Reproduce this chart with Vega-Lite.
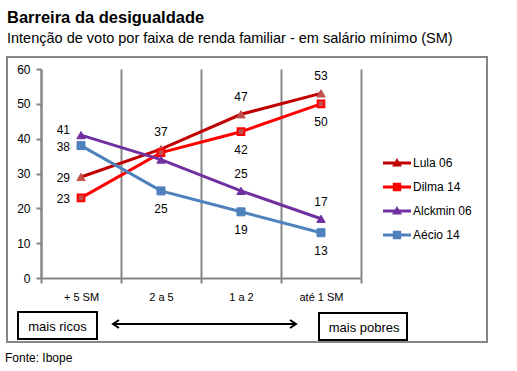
{
  "$schema": "https://vega.github.io/schema/vega-lite/v6.json",
  "width": 320,
  "height": 209,
  "autosize": "none",
  "padding": {"left": 41, "top": 69, "right": 156, "bottom": 93},
  "background": "white",
  "config": {"view": {"stroke": null}, "font": "Liberation Sans"},
  "title": {
    "text": "Barreira da desigualdade",
    "subtitle": "Intenção de voto por faixa de renda familiar - em salário mínimo (SM)",
    "anchor": "start",
    "frame": "group",
    "dx": -34,
    "offset": 10,
    "subtitlePadding": 6,
    "font": "Liberation Sans",
    "fontSize": 16.5,
    "fontWeight": "bold",
    "color": "#000000",
    "subtitleFont": "Liberation Sans",
    "subtitleFontSize": 14.5,
    "subtitleColor": "#000000"
  },
  "datasets": {
    "votos": [
      {"serie": "Lula 06", "faixa": "+ 5 SM", "voto": 29},
      {"serie": "Lula 06", "faixa": "2 a 5", "voto": 37},
      {"serie": "Lula 06", "faixa": "1 a 2", "voto": 47},
      {"serie": "Lula 06", "faixa": "até 1 SM", "voto": 53},
      {"serie": "Dilma 14", "faixa": "+ 5 SM", "voto": 23},
      {"serie": "Dilma 14", "faixa": "2 a 5", "voto": 36},
      {"serie": "Dilma 14", "faixa": "1 a 2", "voto": 42},
      {"serie": "Dilma 14", "faixa": "até 1 SM", "voto": 50},
      {"serie": "Alckmin 06", "faixa": "+ 5 SM", "voto": 41},
      {"serie": "Alckmin 06", "faixa": "2 a 5", "voto": 34},
      {"serie": "Alckmin 06", "faixa": "1 a 2", "voto": 25},
      {"serie": "Alckmin 06", "faixa": "até 1 SM", "voto": 17},
      {"serie": "Aécio 14", "faixa": "+ 5 SM", "voto": 38},
      {"serie": "Aécio 14", "faixa": "2 a 5", "voto": 25},
      {"serie": "Aécio 14", "faixa": "1 a 2", "voto": 19},
      {"serie": "Aécio 14", "faixa": "até 1 SM", "voto": 13}
    ]
  },
  "layer": [
    {
      "data": {"name": "votos"},
      "encoding": {
        "x": {
          "field": "faixa",
          "type": "nominal",
          "sort": ["+ 5 SM", "2 a 5", "1 a 2", "até 1 SM"],
          "scale": {"type": "band", "paddingInner": 0, "paddingOuter": 0},
          "axis": {
            "title": null,
            "labelAngle": 0,
            "tickBand": "extent",
            "grid": true,
            "gridColor": "#868686",
            "gridWidth": 2,
            "domainColor": "#868686",
            "domainWidth": 2,
            "tickColor": "#868686",
            "tickWidth": 2,
            "tickSize": 5,
            "labelPadding": 8,
            "labelFont": "Liberation Sans",
            "labelFontSize": 11,
            "labelColor": "#000000"
          }
        },
        "y": {
          "field": "voto",
          "type": "quantitative",
          "scale": {"domain": [0, 60], "nice": false, "zero": true},
          "axis": {
            "title": null,
            "values": [0, 10, 20, 30, 40, 50, 60],
            "labelOverlap": false,
            "grid": false,
            "domainColor": "#868686",
            "domainWidth": 2,
            "tickColor": "#868686",
            "tickWidth": 2,
            "tickSize": 5,
            "labelPadding": 6,
            "labelFont": "Liberation Sans",
            "labelFontSize": 12,
            "labelColor": "#000000"
          }
        }
      },
      "layer": [
        {
          "mark": {"type": "line", "strokeWidth": 3},
          "encoding": {
            "order": {"value": null},
            "color": {
              "field": "serie",
              "type": "nominal",
              "scale": {
                "domain": ["Lula 06", "Dilma 14", "Alckmin 06", "Aécio 14"],
                "range": ["#C00000", "#FF0000", "#7030A0", "#4F81BD"]
              },
              "legend": {
                "title": null,
                "orient": "none",
                "legendX": 346,
                "legendY": 84,
                "padding": 0,
                "symbolSize": 400,
                "rowPadding": 8,
                "labelOffset": 6,
                "labelFont": "Liberation Sans",
                "labelFontSize": 12,
                "labelColor": "#000000",
                "labelBaseline": "middle",
                "encode": {
                  "symbols": {
                    "update": {
                      "shape": {"signal": "datum.value === 'Lula 06' || datum.value === 'Alckmin 06' ? 'M-1.4,-0.15H1.4V0.15H-1.4Z M0,-0.5L0.5,0.35H-0.5Z' : 'M-1.4,-0.15H1.4V0.15H-1.4Z M-0.42,-0.42H0.42V0.42H-0.42Z'"},
                      "fill": {"scale": "color", "field": "value"},
                      "fillOpacity": {"value": 1},
                      "stroke": {"value": "transparent"},
                      "strokeWidth": {"value": 0}
                    }
                  }
                }
              }
            }
          }
        },
        {
          "transform": [{"filter": "datum.serie === 'Lula 06'"}],
          "mark": {"type": "point", "shape": "triangle-up", "size": 70, "filled": true, "fill": "#C0504D", "stroke": "#C0504D", "strokeWidth": 1, "opacity": 1}
        },
        {
          "transform": [{"filter": "datum.serie === 'Dilma 14'"}],
          "mark": {"type": "point", "shape": "square", "size": 45, "filled": true, "fill": "#C0504D", "stroke": "#FF0000", "strokeWidth": 2, "opacity": 1}
        },
        {
          "transform": [{"filter": "datum.serie === 'Alckmin 06'"}],
          "mark": {"type": "point", "shape": "triangle-up", "size": 70, "filled": true, "fill": "#7030A0", "stroke": "#7030A0", "strokeWidth": 1, "opacity": 1}
        },
        {
          "transform": [{"filter": "datum.serie === 'Aécio 14'"}],
          "mark": {"type": "point", "shape": "square", "size": 64, "filled": true, "fill": "#4F81BD", "stroke": "#4F81BD", "strokeWidth": 1, "opacity": 1}
        },
        {
          "transform": [{"filter": "datum.faixa === '+ 5 SM' && datum.serie !== 'Alckmin 06'"}],
          "mark": {"type": "text", "align": "right", "baseline": "middle", "dx": -11, "dy": 1, "fontSize": 12, "font": "Liberation Sans", "color": "#000000"},
          "encoding": {"text": {"field": "voto", "type": "quantitative"}}
        },
        {
          "transform": [{"filter": "datum.faixa === '+ 5 SM' && datum.serie === 'Alckmin 06'"}],
          "mark": {"type": "text", "align": "right", "baseline": "middle", "dx": -11, "dy": -5, "fontSize": 12, "font": "Liberation Sans", "color": "#000000"},
          "encoding": {"text": {"field": "voto", "type": "quantitative"}}
        },
        {
          "transform": [{"filter": "(datum.serie === 'Lula 06' && datum.faixa !== '+ 5 SM') || (datum.serie === 'Alckmin 06' && (datum.faixa === '1 a 2' || datum.faixa === 'até 1 SM'))"}],
          "mark": {"type": "text", "align": "center", "baseline": "middle", "dy": -17, "fontSize": 12, "font": "Liberation Sans", "color": "#000000"},
          "encoding": {"text": {"field": "voto", "type": "quantitative"}}
        },
        {
          "transform": [{"filter": "(datum.serie === 'Dilma 14' && (datum.faixa === '1 a 2' || datum.faixa === 'até 1 SM')) || (datum.serie === 'Aécio 14' && datum.faixa !== '+ 5 SM')"}],
          "mark": {"type": "text", "align": "center", "baseline": "middle", "dy": 18, "fontSize": 12, "font": "Liberation Sans", "color": "#000000"},
          "encoding": {"text": {"field": "voto", "type": "quantitative"}}
        }
      ]
    },
    {
      "data": {"values": [{}]},
      "layer": [
        {
          "mark": {"type": "rect", "filled": false, "stroke": "#868686", "strokeWidth": 2},
          "encoding": {
            "x": {"datum": -0.425, "type": "quantitative", "scale": {"domain": [0, 4], "nice": false, "zero": false}, "axis": null},
            "x2": {"datum": 5.575},
            "y": {"datum": 63.45, "type": "quantitative", "scale": {"domain": [0, 60], "nice": false}, "axis": null},
            "y2": {"datum": -18.37}
          }
        },
        {
          "mark": {"type": "rect", "filled": false, "stroke": "#000000", "strokeWidth": 2},
          "encoding": {
            "x": {"datum": -0.2875, "type": "quantitative", "scale": {"domain": [0, 4], "nice": false, "zero": false}, "axis": null},
            "x2": {"datum": 0.7},
            "y": {"datum": -9.76, "type": "quantitative", "scale": {"domain": [0, 60], "nice": false}, "axis": null},
            "y2": {"datum": -17.51}
          }
        },
        {
          "mark": {"type": "rect", "filled": false, "stroke": "#000000", "strokeWidth": 2},
          "encoding": {
            "x": {"datum": 3.475, "type": "quantitative", "scale": {"domain": [0, 4], "nice": false, "zero": false}, "axis": null},
            "x2": {"datum": 4.575},
            "y": {"datum": -10.05, "type": "quantitative", "scale": {"domain": [0, 60], "nice": false}, "axis": null},
            "y2": {"datum": -17.8}
          }
        },
        {
          "mark": {"type": "text", "text": "mais ricos", "align": "center", "baseline": "middle", "fontSize": 13, "font": "Liberation Sans", "color": "#000000"},
          "encoding": {
            "x": {"datum": 0.206, "type": "quantitative", "scale": {"domain": [0, 4], "nice": false, "zero": false}, "axis": null},
            "y": {"datum": -14.07, "type": "quantitative", "scale": {"domain": [0, 60], "nice": false}, "axis": null}
          }
        },
        {
          "mark": {"type": "text", "text": "mais pobres", "align": "center", "baseline": "middle", "fontSize": 13, "font": "Liberation Sans", "color": "#000000"},
          "encoding": {
            "x": {"datum": 4.04, "type": "quantitative", "scale": {"domain": [0, 4], "nice": false, "zero": false}, "axis": null},
            "y": {"datum": -14.35, "type": "quantitative", "scale": {"domain": [0, 60], "nice": false}, "axis": null}
          }
        },
        {
          "mark": {"type": "rule", "stroke": "#000000", "strokeWidth": 2},
          "encoding": {
            "x": {"datum": 0.9, "type": "quantitative", "scale": {"domain": [0, 4], "nice": false, "zero": false}, "axis": null},
            "x2": {"datum": 3.1875},
            "y": {"datum": -13.2, "type": "quantitative", "scale": {"domain": [0, 60], "nice": false}, "axis": null}
          }
        },
        {
          "mark": {"type": "point", "shape": "M1.5,-1L0,0L1.5,1", "filled": false, "stroke": "#000000", "strokeWidth": 2, "size": 64, "opacity": 1},
          "encoding": {
            "x": {"datum": 0.9, "type": "quantitative", "scale": {"domain": [0, 4], "nice": false, "zero": false}, "axis": null},
            "y": {"datum": -13.2, "type": "quantitative", "scale": {"domain": [0, 60], "nice": false}, "axis": null}
          }
        },
        {
          "mark": {"type": "point", "shape": "M-1.5,-1L0,0L-1.5,1", "filled": false, "stroke": "#000000", "strokeWidth": 2, "size": 64, "opacity": 1},
          "encoding": {
            "x": {"datum": 3.1875, "type": "quantitative", "scale": {"domain": [0, 4], "nice": false, "zero": false}, "axis": null},
            "y": {"datum": -13.2, "type": "quantitative", "scale": {"domain": [0, 60], "nice": false}, "axis": null}
          }
        },
        {
          "mark": {"type": "text", "text": "Fonte: Ibope", "align": "left", "baseline": "middle", "fontSize": 12, "font": "Liberation Sans", "color": "#000000"},
          "encoding": {
            "x": {"datum": -0.45, "type": "quantitative", "scale": {"domain": [0, 4], "nice": false, "zero": false}, "axis": null},
            "y": {"datum": -22.97, "type": "quantitative", "scale": {"domain": [0, 60], "nice": false}, "axis": null}
          }
        }
      ]
    }
  ],
  "resolve": {"scale": {"x": "independent"}, "axis": {"y": "independent"}}
}
